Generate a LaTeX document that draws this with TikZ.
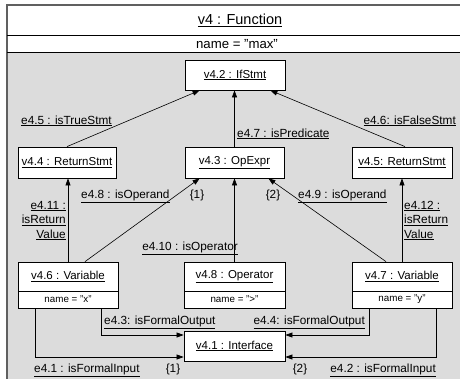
\documentclass[tikz,border=0pt]{standalone}
\usepackage{fontspec}
\setmainfont{Liberation Sans}
\usetikzlibrary{arrows.meta}
\definecolor{bggray}{HTML}{DCDCDC}
\definecolor{framegray}{HTML}{606060}
\begin{document}
\begin{tikzpicture}[x=1pt,y=-1pt,
  obj/.style={draw=black,line width=0.8pt,fill=white,inner sep=0pt,minimum width=100pt,minimum height=30pt,font=\fontsize{11.5}{13}\selectfont},
  attrbox/.style={draw=black,line width=0.8pt,fill=white,inner sep=0pt,minimum width=100pt,minimum height=17pt,font=\fontsize{9.8}{11}\selectfont},
  lbl/.style={inner sep=0pt,font=\fontsize{11.8}{14.5}\selectfont},
  arr/.style={line width=0.6pt,-{Triangle[length=7pt,width=5pt]}},
  conn/.style={line width=0.6pt}]
\useasboundingbox (0,0) rectangle (460,378);
\begin{scope}
\clip (0,0) rectangle (460,378);
\fill[white] (0,0) rectangle (460,378);
\fill[bggray] (7,52) rectangle (475,400);
\draw[framegray,line width=1.3pt] (7,5) rectangle (475,400);
\draw[black,line width=1pt] (7,35) -- (475,35);
\draw[black,line width=1pt] (7,52) -- (475,52);
\end{scope}
\node[inner sep=0pt,font=\fontsize{14.5}{16}\selectfont] (title) at (240,20) {\underline{v4 : Function}};
\node[inner sep=0pt,font=\fontsize{13.2}{15}\selectfont] (fname) at (237,44) {name = "max"};

% objects
\node[obj] (v42) at (235,75) {\underline{v4.2 : IfStmt}};
\node[obj,minimum width=98pt,minimum height=31pt] (v44) at (67,162.5) {\underline{v4.4 : ReturnStmt}};
\node[obj,minimum width=99pt,minimum height=31pt] (v43) at (234.5,162.5) {\underline{v4.3 : OpExpr}};
\node[obj,minimum height=31pt] (v45) at (402,162.5) {\underline{v4.5: ReturnStmt}};
\node[obj,minimum height=29pt] (v46) at (68,276.5) {\underline{v4.6 : Variable}};
\node[attrbox] (v46a) at (68,299.5) {name = "x"};
\node[obj,minimum width=101pt,minimum height=29pt] (v48) at (234.5,276.5) {\underline{v4.8 : Operator}};
\node[attrbox,minimum width=101pt] (v48a) at (234.5,299.5) {name = ">"};
\node[obj,minimum height=29pt] (v47) at (402,276.5) {\underline{v4.7 : Variable}};
\node[attrbox] (v47a) at (402,299.5) {name = "y"};
\node[obj,minimum width=101pt] (v41) at (234.5,346) {\underline{v4.1 : Interface}};

% connectors
\draw[arr] (v44.north) -- ([xshift=15pt]v42.south west);
\draw[arr] (v43.north) -- (v43.north |- v42.south);
\draw[arr] ([xshift=3pt]v45.north) -- ([xshift=-15pt]v42.south east);
\draw[arr] (v46.north) -- (v46.north |- v44.south);
\draw[arr] ([xshift=17pt]v46.north) -- ([xshift=15pt]v43.south west);
\draw[arr] (v48.north) -- (v48.north |- v43.south);
\draw[arr] ([xshift=-16pt]v47.north) -- ([xshift=-16pt]v43.south east);
\draw[arr] (v47.north) -- (v47.north |- v45.south);
\draw[arr] ([xshift=33pt]v46a.south) |- ([yshift=11pt]v41.west);
\draw[arr] ([xshift=-33pt]v46a.south) |- ([yshift=-11pt]v41.west);
\draw[arr] ([xshift=-33pt]v47a.south) |- ([yshift=11pt]v41.east);
\draw[arr] ([xshift=34pt]v47a.south) |- ([yshift=-11pt]v41.east);

% labels
\node[lbl,anchor=base west] (l45) at (21,124) {\underline{e4.5 : isTrueStmt}};
\node[lbl,anchor=base east] (l46) at (456,124) {\underline{e4.6: isFalseStmt}};
\node[lbl,anchor=base west] (l47) at (237,137) {\underline{e4.7 : isPredicate}};
\node[lbl,anchor=base west] (l48) at (81,198) {\underline{e4.8 : isOperand}};
\node[lbl,anchor=base] (o1) at (197,198) {\{1\}};
\node[lbl,anchor=base] (o2) at (273,198) {\{2\}};
\node[lbl,anchor=base west] (l49) at (298,198) {\underline{e4.9 : isOperand}};
\node[lbl,anchor=base east] (l411a) at (66,209) {\underline{e4.11 :}};
\node[lbl,anchor=base east] (l411b) at (66,223.5) {\underline{isReturn}};
\node[lbl,anchor=base east] (l411c) at (66,238) {\underline{Value}};
\node[lbl,anchor=base west] (l412a) at (404,209) {\underline{e4.12 :}};
\node[lbl,anchor=base west] (l412b) at (404,223.5) {\underline{isReturn}};
\node[lbl,anchor=base west] (l412c) at (404,238) {\underline{Value}};
\node[lbl,anchor=base east] (l410) at (238,250) {\underline{e4.10 : isOperator}};
\node[lbl,anchor=base west] (l43) at (104,324) {\underline{e4.3: isFormalOutput}};
\node[lbl,anchor=base east] (l44) at (365,324) {\underline{e4.4: isFormalOutput}};
\node[lbl,anchor=base west] (l41) at (34,372) {\underline{e4.1 : isFormalInput}};
\node[lbl,anchor=base] (i1) at (173,372) {\{1\}};
\node[lbl,anchor=base] (i2) at (300,372) {\{2\}};
\node[lbl,anchor=base east] (l42) at (436,372) {\underline{e4.2 : isFormalInput}};
\end{tikzpicture}
\end{document}
